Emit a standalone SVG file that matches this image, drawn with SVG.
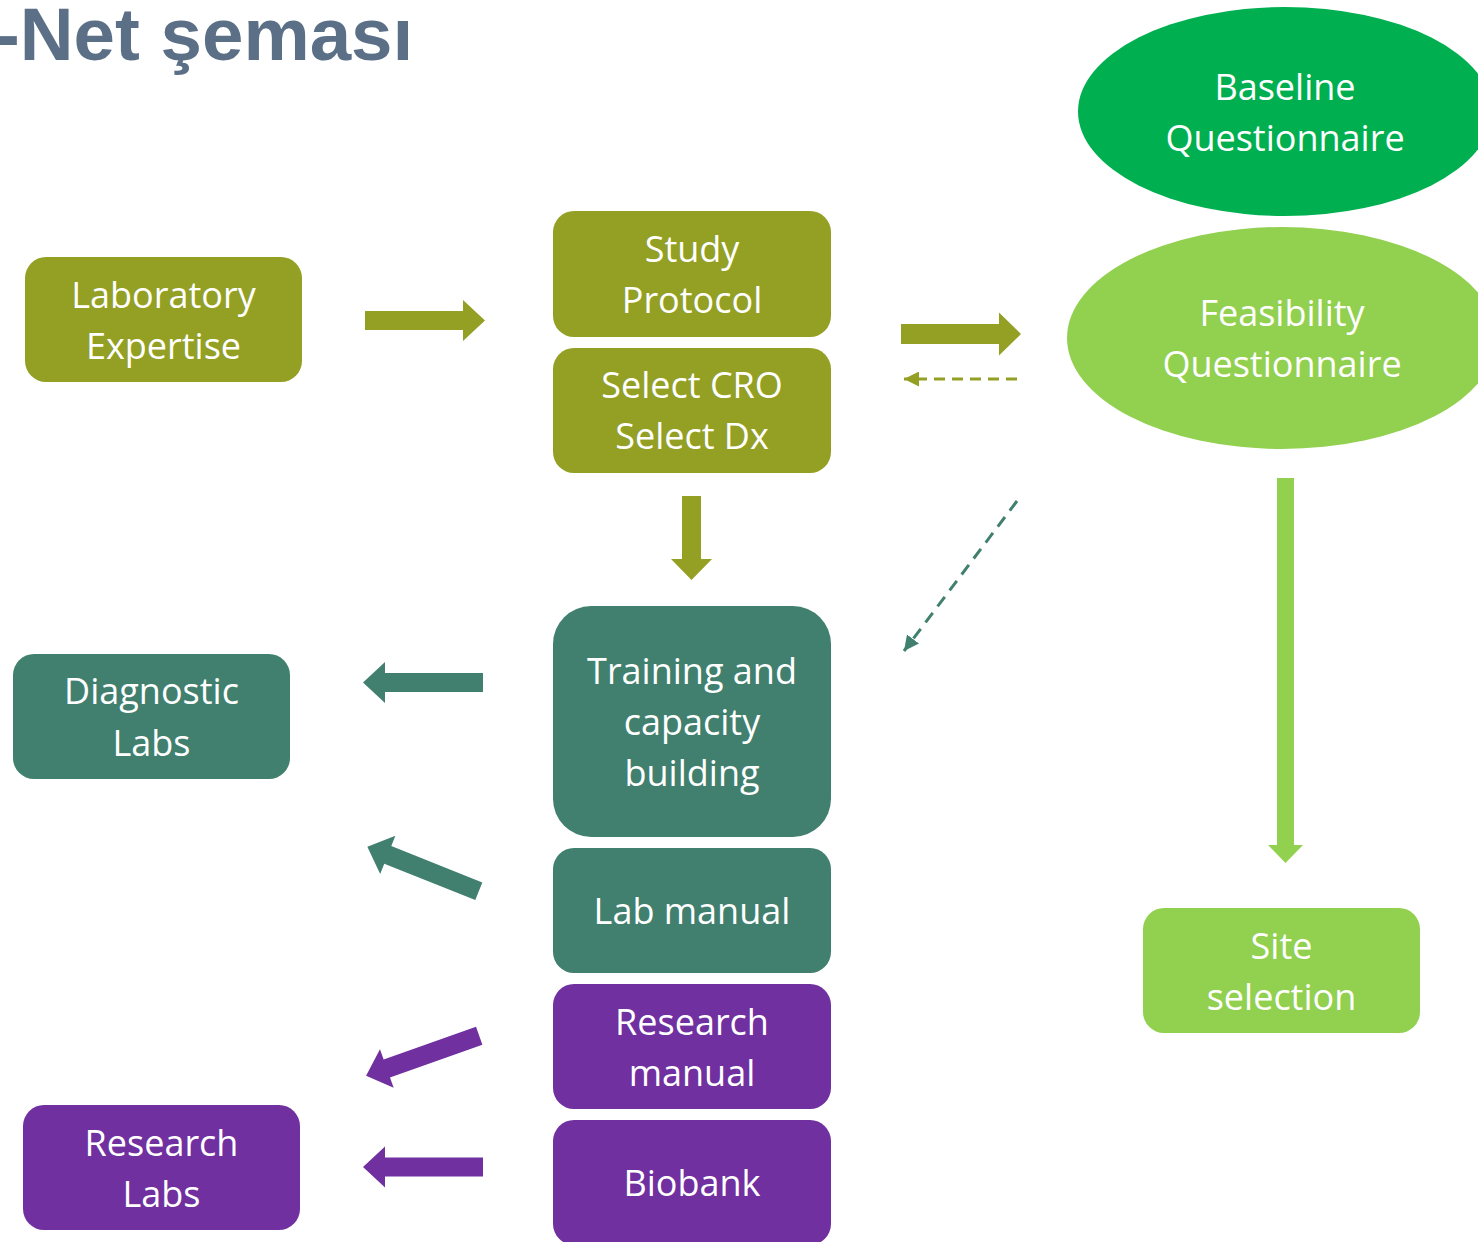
<svg xmlns="http://www.w3.org/2000/svg" xmlns:xlink="http://www.w3.org/1999/xlink" width="1478" height="1242" viewBox="0 0 1478 1242">
<style>
.t{font-family:"Open Sans","Noto Sans",Lato,sans-serif;font-size:36px;fill:#ffffff;text-anchor:middle}
.olive{fill:#93A024}
.teal{fill:#41806F}
.purple{fill:#7030A0}
.lgreen{fill:#92D050}
.green{fill:#00B050}
.title{font-family:"Liberation Sans",Arial,sans-serif;font-weight:bold;font-size:74.5px;fill:#5B7086}
</style>
<defs>
<path id="arr" d="M0,-9.5 H98 V-20.5 L120,0 L98,20.5 V9.5 H0 Z"/>
<marker id="mOlive" viewBox="0 0 10 10" refX="10" refY="5" markerWidth="5" markerHeight="5" orient="auto" markerUnits="strokeWidth"><path d="M0,0 L10,5 L0,10 Z" fill="#93A024"/></marker>
<marker id="mTeal" viewBox="0 0 10 10" refX="10" refY="5" markerWidth="5" markerHeight="5" orient="auto" markerUnits="strokeWidth"><path d="M0,0 L10,5 L0,10 Z" fill="#41806F"/></marker>
</defs>
<rect width="1478" height="1242" fill="#ffffff"/>
<text class="title" x="-5" y="60">-Net şeması</text>

<g id="connectors">
<use xlink:href="#arr" class="olive" transform="translate(365,320.5)"/>
<use xlink:href="#arr" class="olive" transform="translate(901,334) scale(1,1.05)"/>
<path class="olive" d="M682,496 H701 V559 H712 L691.5,580 L671,559 H682 Z"/>
<path class="lgreen" d="M1277,478 H1294 V845 H1303 L1285.5,863 L1268,845 H1277 Z"/>
<line x1="1017" y1="379" x2="904" y2="379" stroke="#93A024" stroke-width="3" stroke-dasharray="11 7" marker-end="url(#mOlive)"/>
<line x1="1017" y1="501" x2="904" y2="651" stroke="#41806F" stroke-width="3" stroke-dasharray="12 8" marker-end="url(#mTeal)"/>
<use xlink:href="#arr" class="teal" transform="translate(483,682.5) rotate(180)"/>
<use xlink:href="#arr" class="teal" transform="translate(478.8,891.2) rotate(201.76)"/>
<use xlink:href="#arr" class="purple" transform="translate(479.2,1035.8) rotate(160.5)"/>
<use xlink:href="#arr" class="purple" transform="translate(483,1167) rotate(180)"/>
</g>

<g id="lab-expertise">
<rect class="olive" x="25" y="257" width="277" height="125" rx="21"/>
<text class="t" x="163.5" y="308">Laboratory</text>
<text class="t" x="163.5" y="359">Expertise</text>
</g>
<g id="study-protocol">
<rect class="olive" x="553" y="211" width="278" height="126" rx="21"/>
<text class="t" x="692" y="262">Study</text>
<text class="t" x="692" y="313">Protocol</text>
</g>
<g id="select-cro">
<rect class="olive" x="553" y="348" width="278" height="125" rx="21"/>
<text class="t" x="692" y="398">Select CRO</text>
<text class="t" x="692" y="449">Select Dx</text>
</g>
<g id="baseline-q">
<ellipse class="green" cx="1285" cy="111.5" rx="207" ry="104.5"/>
<text class="t" x="1285" y="100">Baseline</text>
<text class="t" x="1285" y="151">Questionnaire</text>
</g>
<g id="feasibility-q">
<ellipse class="lgreen" cx="1282" cy="338" rx="215" ry="111"/>
<text class="t" x="1282" y="326">Feasibility</text>
<text class="t" x="1282" y="377">Questionnaire</text>
</g>
<g id="training">
<rect class="teal" x="553" y="606" width="278" height="231" rx="38"/>
<text class="t" x="692" y="684">Training and</text>
<text class="t" x="692" y="735">capacity</text>
<text class="t" x="692" y="786">building</text>
</g>
<g id="lab-manual">
<rect class="teal" x="553" y="848" width="278" height="125" rx="21"/>
<text class="t" x="692" y="924">Lab manual</text>
</g>
<g id="research-manual">
<rect class="purple" x="553" y="984" width="278" height="125" rx="21"/>
<text class="t" x="692" y="1035">Research</text>
<text class="t" x="692" y="1086">manual</text>
</g>
<g id="biobank">
<rect class="purple" x="553" y="1120" width="278" height="125" rx="21"/>
<text class="t" x="692" y="1196">Biobank</text>
</g>
<g id="diagnostic-labs">
<rect class="teal" x="13" y="654" width="277" height="125" rx="21"/>
<text class="t" x="151.5" y="704">Diagnostic</text>
<text class="t" x="151.5" y="756">Labs</text>
</g>
<g id="research-labs">
<rect class="purple" x="23" y="1105" width="277" height="125" rx="21"/>
<text class="t" x="161.5" y="1156">Research</text>
<text class="t" x="161.5" y="1207">Labs</text>
</g>
<g id="site-selection">
<rect class="lgreen" x="1143" y="908" width="277" height="125" rx="21"/>
<text class="t" x="1281.5" y="959">Site</text>
<text class="t" x="1281.5" y="1010">selection</text>
</g>
</svg>
